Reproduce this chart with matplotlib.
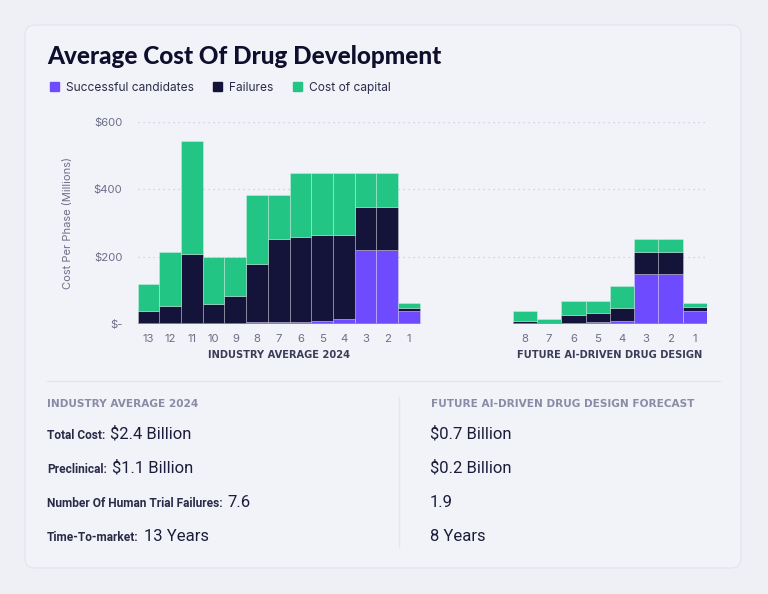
import matplotlib.pyplot as plt
import matplotlib.patches as mpatches
from matplotlib.lines import Line2D
import numpy as np

# phase labels
industry_phases = ["13", "12", "11", "10", "9", "8", "7", "6", "5", "4", "3", "2", "1"]
future_phases = ["8", "7", "6", "5", "4", "3", "2", "1"]

# industry average 2024 (cost per phase, $M)
ind_success = [0, 0, 0, 0, 0, 5, 5, 5, 10, 15, 219, 219, 40]
ind_failures = [39, 52, 208, 58, 83, 173, 248, 254, 253, 248, 128, 128, 8]
ind_capital = [81, 161, 334, 140, 115, 205, 130, 190, 186, 186, 102, 102, 15]

# future AI-driven design (cost per phase, $M)
fut_success = [0, 0, 3, 5, 10, 148, 148, 39]
fut_failures = [8, 2, 25, 28, 37, 65, 65, 12]
fut_capital = [31, 13, 41, 36, 67, 40, 40, 12]

legend_labels = ["Successful candidates", "Failures", "Cost of capital"]
yticks = [0, 200, 400, 600]
ytick_labels = ["$-", "$200", "$400", "$600"]

left_title = "INDUSTRY AVERAGE 2024"
right_title = "FUTURE AI-DRIVEN DRUG DESIGN FORECAST"
stat_labels = ["Total Cost:", "Preclinical:", "Number Of Human Trial Failures:", "Time-To-market:"]
industry_stats = ["$2.4 Billion", "$1.1 Billion", "7.6", "13 Years"]
future_stats = ["$0.7 Billion", "$0.2 Billion", "1.9", "8 Years"]

PURPLE = "#6e4bff"
NAVY = "#14143a"
GREEN = "#22c583"
GREY = "#6d6e8a"
BG = "#eff0f5"
CARD = "#f2f3f8"

plt.rcParams['font.family'] = ['Inter', 'DejaVu Sans']

W, H = 768, 594
fig = plt.figure(figsize=(W / 100, H / 100), dpi=100, facecolor=BG)

# card
card = mpatches.FancyBboxPatch((25 / 100, 26 / 100), 716 / 100, 543 / 100,
                               boxstyle="round,pad=0,rounding_size=0.1",
                               transform=fig.dpi_scale_trans,
                               facecolor=CARD, edgecolor="#e5e6ee", lw=1, zorder=-5)
fig.patches.append(card)

# chart axes
ax_l, ax_r, ax_b, ax_t = 137.7, 707.0, 324.0, 121.7
ax = fig.add_axes([ax_l / W, 1 - ax_b / H, (ax_r - ax_l) / W, (ax_b - ax_t) / H])
ax.set_facecolor("none")
ax.set_zorder(2)

n_ind = len(industry_phases)
n_fut = len(future_phases)
w_fut = 1.12
fut_start = 17.28
x_ind = np.arange(n_ind)
x_fut = fut_start + np.arange(n_fut) * w_fut

edge = (1, 1, 1, 0.28)


def stack(x, w, s, f, c):
    s = np.array(s)
    f = np.array(f)
    c = np.array(c)
    ax.bar(x, s, w, align="edge", color=PURPLE, edgecolor=edge, lw=0.7, zorder=3)
    ax.bar(x, f, w, bottom=s, align="edge", color=NAVY, edgecolor=edge, lw=0.7, zorder=3)
    ax.bar(x, c, w, bottom=s + f, align="edge", color=GREEN, edgecolor=edge, lw=0.7, zorder=3)


stack(x_ind, 1.0, ind_success, ind_failures, ind_capital)
stack(x_fut, w_fut, fut_success, fut_failures, fut_capital)

xmax = fut_start + n_fut * w_fut
ax.set_xlim(0, xmax)
ax.set_ylim(0, 600)

for yv in yticks[1:]:
    ax.axhline(yv, color="#c9cad6", lw=0.9, ls=(0, (1, 3)), zorder=1)
ax.hlines(0, 0, n_ind, color="#8d8ea5", lw=1.2, zorder=4)
ax.hlines(0, fut_start, xmax, color="#8d8ea5", lw=1.2, zorder=4)

for sp in ax.spines.values():
    sp.set_visible(False)

ax.set_yticks(yticks)
ax.set_yticklabels(ytick_labels)
ax.set_xticks(np.concatenate([x_ind + 0.5, x_fut + w_fut / 2]))
ax.set_xticklabels(industry_phases + future_phases)
ax.tick_params(axis="both", length=0, colors=GREY, labelsize=8.2)
ax.tick_params(axis="y", pad=11)
ax.tick_params(axis="x", pad=7)
ax.set_ylabel("Cost Per Phase (Millions)", color=GREY, fontsize=8, labelpad=15)

# group labels under the chart
fig.text((ax_l + n_ind / xmax * (ax_r - ax_l) / 2) / W, 1 - 355 / H, "INDUSTRY AVERAGE 2024",
         ha="center", va="center", fontsize=7.1, fontweight="bold", color="#3b3c58",
         family=["DejaVu Sans"])
fig.text((ax_l + (fut_start + xmax) / 2 / xmax * (ax_r - ax_l)) / W, 1 - 355 / H,
         "FUTURE AI-DRIVEN DRUG DESIGN", ha="center", va="center", fontsize=7.1,
         fontweight="bold", color="#3b3c58", family=["DejaVu Sans"])

# title
fig.text(47 / W, 1 - 57 / H, "Average Cost Of Drug Development", ha="left", va="center",
         fontsize=17.5, fontweight="black", color="#0f0f2d", family=["Lato", "DejaVu Sans"])

# legend
handles = [mpatches.Patch(color=PURPLE), mpatches.Patch(color=NAVY), mpatches.Patch(color=GREEN)]
fig.legend(handles, legend_labels, loc="center left", bbox_to_anchor=(39 / W, 1 - 88 / H),
           ncol=3, frameon=False, fontsize=8.6, handlelength=0.75, handleheight=0.75,
           handletextpad=0.6, columnspacing=1.6, labelcolor="#2b2c48")

# separators
fig.add_artist(Line2D([47 / W, 720 / W], [1 - 381 / H, 1 - 381 / H], color="#e4e5ed", lw=1))
fig.add_artist(Line2D([399 / W, 399 / W], [1 - 397 / H, 1 - 547 / H], color="#e4e5ed", lw=1))

# stats
fig.text(47 / W, 1 - 407 / H, left_title, fontsize=7.6, fontweight="bold", color="#8a8ba6",
         va="baseline", family=["DejaVu Sans"])
fig.text(431 / W, 1 - 407 / H, right_title, fontsize=7.6, fontweight="bold", color="#8a8ba6",
         va="baseline", family=["DejaVu Sans"])

renderer = fig.canvas.get_renderer()
row_y = [439, 473, 507, 541]
for lab, v1, v2, yy in zip(stat_labels, industry_stats, future_stats, row_y):
    t = fig.text(47 / W, 1 - yy / H, lab, fontsize=8.6, fontweight="bold", color="#2a2b48",
                 va="baseline", family=["Roboto", "DejaVu Sans"])
    x1 = t.get_window_extent(renderer).x1
    fig.text((x1 + 5) / W, 1 - yy / H, v1, fontsize=12, color="#1c1d3a", va="baseline",
             family=["Roboto", "DejaVu Sans"])
    fig.text(430 / W, 1 - yy / H, v2, fontsize=12, color="#1c1d3a", va="baseline",
             family=["Roboto", "DejaVu Sans"])

fig.savefig("out.png", dpi=100, facecolor=BG)
